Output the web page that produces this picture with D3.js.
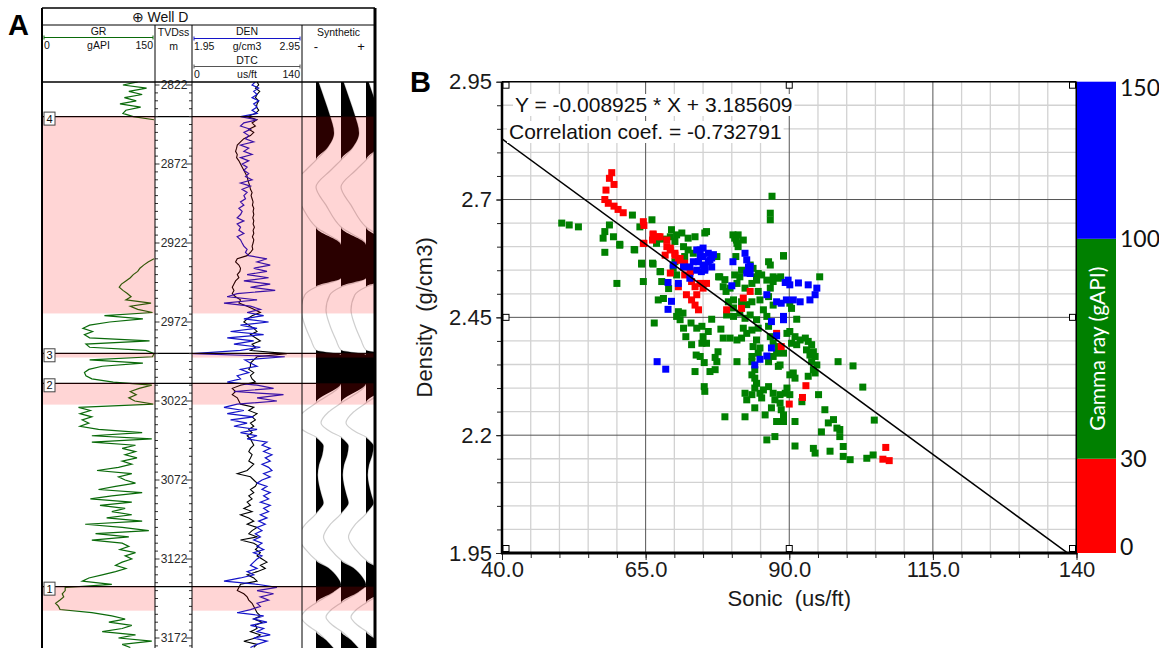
<!DOCTYPE html>
<html>
<head>
<meta charset="UTF-8">
<title>Well D log and density-sonic crossplot</title>
<style>
  body { margin: 0; background: #fff; }
  svg { display: block; font-family: "Liberation Sans", Arial, sans-serif; }
</style>
</head>
<body>
<svg id="chart" width="1159" height="648"></svg>
<script src="https://d3js.org/d3.v7.min.js"></script>
<script>
// ---------------- well log data (one sample every 2 m from 2820 m) ----------------
var depthTop = 2820, depthStep = 2;
var grValues = [128,108,140,116,134,110,126,104,132,112,
  108,122,150,
  null,null,null,null,null,null,null,null,null,null,null,null,null,null,null,null,null,null,null,null,null,
  null,null,null,null,null,null,null,null,null,null,null,null,null,null,null,null,null,null,null,null,null,null,
  150,142,136,131,128,122,118,112,106,103,
  108,114,119,112,146,118,128,148,83,135,
  90,63,54,67,56,63,144,58,63,139,
  150,148,63,135,80,62,56,58,66,95,
  147,130,118,126,116,124,149,48,64,50,
  66,53,62,50,75,134,66,147,66,125,
  107,125,111,127,107,120,102,73,120,102,
  111,125,98,75,134,93,64,120,77,111,
  93,120,86,134,57,107,143,71,116,66,
  107,116,104,125,111,120,107,98,112,98,
  80,62,53,93,30,30,26,28,23,17,
  21,23,66,93,111,89,120,107,80,125,
  102,147,107,118];
var denValues = [2.527,2.497,2.558,2.512,2.543,2.497,2.558,2.512,2.543,2.497,
  2.543,2.390,2.543,2.421,2.390,2.482,2.421,2.466,2.436,2.512,
  2.390,2.466,2.421,2.497,2.390,2.466,2.405,2.451,2.421,2.466,
  2.436,2.497,2.390,2.482,2.405,2.451,2.421,2.436,2.390,2.421,
  2.375,2.405,2.390,2.359,2.421,2.359,2.390,2.375,2.421,2.359,
  2.390,2.405,2.421,2.451,2.436,2.466,2.635,2.543,2.665,2.512,
  2.635,2.451,2.650,2.421,2.665,2.482,2.711,2.359,2.267,2.543,
  2.237,2.482,2.574,2.451,2.604,2.421,2.650,2.390,2.543,2.298,
  2.604,2.267,2.512,2.329,2.574,2.390,1.950,2.800,2.430,2.480,
  2.543,2.390,2.466,2.359,2.390,2.267,2.543,2.696,2.329,2.788,
  2.543,2.727,2.359,2.237,2.421,2.267,2.512,2.298,2.451,2.329,
  2.543,2.390,2.543,2.451,2.635,2.589,2.665,2.604,2.681,2.619,
  2.665,2.589,2.650,2.681,2.604,2.665,2.589,2.543,2.635,2.589,
  2.665,2.604,2.650,2.574,2.665,2.604,2.650,2.574,2.635,2.558,
  2.619,2.543,2.589,2.527,2.574,2.512,2.589,2.543,2.604,2.512,
  2.589,2.543,2.512,2.482,2.543,2.451,2.512,2.390,2.237,2.543,
  2.727,2.543,2.696,2.574,2.650,2.543,2.574,2.482,2.359,2.604,
  2.512,2.635,2.482,2.604,2.543,2.665,2.512,2.635,2.543,2.482];
var dtcValues = [83.0,85.2,80.9,86.5,83.0,80.9,85.2,83.0,82.2,85.2,
  80.9,70.2,83.0,76.6,80.9,72.3,78.8,74.5,65.9,61.6,
  57.4,56.5,55.2,57.4,56.5,59.5,61.6,63.8,65.9,68.1,
  70.2,71.1,72.3,73.6,74.5,76.6,75.3,76.6,77.9,77.0,
  78.8,77.9,78.8,77.5,78.8,77.9,79.6,77.9,78.8,77.0,
  78.8,77.9,76.6,77.5,74.5,70.2,57.4,55.2,59.5,61.6,
  60.8,57.4,59.5,55.2,53.1,50.9,53.1,50.9,55.2,61.6,
  59.5,70.2,78.8,87.3,76.6,70.2,65.9,72.3,78.8,83.0,
  74.5,80.9,87.3,76.6,80.9,74.5,121.6,83.0,78.8,74.5,
  74.5,72.3,78.8,74.5,76.6,80.9,61.6,50.9,55.2,50.9,
  57.4,59.5,61.6,78.8,72.3,83.0,76.6,80.9,74.5,78.8,
  72.3,76.6,70.2,74.5,76.6,78.8,74.5,72.3,76.6,74.5,
  72.3,78.8,74.5,70.2,57.4,74.5,78.8,83.0,80.9,74.5,
  78.8,72.3,76.6,70.2,74.5,65.9,76.6,61.6,72.3,78.8,
  70.2,83.0,76.6,72.3,83.0,61.6,78.8,85.2,80.9,87.3,
  83.0,89.5,95.9,87.3,93.7,83.0,70.2,78.8,83.0,61.6,
  59.5,57.4,65.9,70.2,72.3,76.6,78.8,80.9,83.0,87.3,
  78.8,89.5,80.9,83.0,74.5,87.3,80.9,65.9,83.0,78.8];

var zoneNames = ["4", "3", "2", "1"];
var zoneTops = [2842, 2991.8, 3010.8, 3139.5];
var zoneBases = [2966.6, 2994.5, 3024.3, 3154.7];
var depthLabels = [2822, 2872, 2922, 2972, 3022, 3072, 3122, 3172];

// synthetic seismogram trace (amplitude, 1 = trace spacing)
var synthDepths = [2820,2831.5,2841,2852.4,2861.9,2869.5,2875.8,2886.6,2898,2911.9,
  2923.3,2929.6,2939.1,2944.2,2949.8,2954.9,2964.4,2973.9,2983.4,2989.8,
  2992.9,3008.7,3010.6,3023.3,3029,3035.9,3041.6,3044.8,3046.7,3050.5,
  3056.2,3062.5,3068.8,3075.2,3081.5,3086.6,3091,3093.5,3100.5,3108.1,
  3116.3,3122.6,3127.7,3133.4,3138.5,3142.9,3149.8,3154.3,3158.7,3163.8,
  3167.6,3173.3,3178.4];
var synthAmps = [0.1,0.35,0.55,0.72,0.45,0,-0.4,-1.0,-0.6,0,
  1.0,1.5,1.5,1.0,0,-0.45,-0.6,-0.45,-0.2,0,
  1.6,1.3,1.0,0,-0.5,-0.8,-0.4,0,0.12,0.3,
  0.25,0.12,0.07,0.12,0.22,0.3,0.12,0,-0.45,-0.7,
  -0.4,0,0.5,0.85,1.05,0.7,0,-0.4,-0.6,-0.35,
  0,0.4,0.7];

// ---------------- crossplot data: [sonic us/ft, density g/cm3] ----------------
var redPoints = [[59.1,2.757],[58.7,2.745],[59.5,2.732],[58.1,2.720],[57.9,2.700],[58.5,2.692],[59.5,2.686],[60.2,2.679],[61.1,2.672],
  [64.6,2.653],[64.7,2.645],[64.7,2.607],[66.3,2.627],[67.2,2.621],[66.2,2.614],[68.7,2.600],[68.4,2.582],[69.3,2.593],[70.1,2.586],
  [70.7,2.571],[69.3,2.544],[71.6,2.557],[72.8,2.547],[66.3,2.625],[67.5,2.621],[68.7,2.614],[64.6,2.607],[69.3,2.597],[70.1,2.582],
  [71.0,2.575],[71.8,2.565],[70.7,2.515],[71.8,2.540],[73.0,2.526],[73.6,2.515],[74.5,2.522],[75.0,2.512],[75.6,2.522],[72.1,2.498],
  [73.0,2.487],[73.6,2.476],[74.2,2.466],[73.9,2.498],[79.1,2.466],[81.7,2.469],[83.2,2.505],[82.0,2.491],[87.8,2.416],[88.6,2.388],
  [92.9,2.305],[92.3,2.280],[90.0,2.266],[106.8,2.174],[106.3,2.149],[107.4,2.146]];
var bluePoints = [[73.9,2.593],[75.0,2.597],[75.9,2.586],[74.5,2.579],[76.2,2.572],[73.3,2.568],[75.0,2.561],[73.9,2.550],[75.3,2.550],
  [76.5,2.557],[72.7,2.557],[80.2,2.568],[82.3,2.586],[82.6,2.572],[82.9,2.557],[83.2,2.543],[89.8,2.529],[74.5,2.593],[75.0,2.579],
  [75.9,2.568],[74.2,2.568],[75.3,2.554],[74.7,2.547],[76.5,2.576],[76.8,2.583],[71.6,2.557],[69.8,2.561],[68.9,2.524],[70.7,2.522],
  [69.5,2.484],[68.9,2.467],[72.7,2.533],[83.2,2.558],[82.6,2.544],[89.3,2.524],[90.1,2.519],[91.6,2.523],[93.3,2.519],[94.8,2.512],
  [94.5,2.498],[93.6,2.487],[91.9,2.483],[90.7,2.487],[89.5,2.487],[88.6,2.480],[87.8,2.483],[86.1,2.498],[89.0,2.452],[89.0,2.445],
  [86.9,2.441],[87.8,2.411],[86.9,2.385],[86.1,2.368],[84.9,2.361],[84.0,2.349],[67.0,2.356],[68.5,2.340],[80.0,2.517]];
var greenPoints = [[50.4,2.650],[51.7,2.646],[53.3,2.642],[58.7,2.646],[57.9,2.632],[57.6,2.618],[59.4,2.621],[57.9,2.588],[60.5,2.605],
  [63.0,2.594],[64.3,2.565],[66.2,2.565],[67.6,2.547],[62.7,2.667],[64.0,2.642],[66.1,2.657],[69.5,2.636],[70.4,2.625],[69.3,2.621],
  [71.3,2.629],[68.1,2.616],[66.9,2.607],[70.1,2.611],[71.6,2.600],[72.4,2.593],[73.3,2.586],[73.6,2.621],[75.3,2.629],[71.8,2.579],
  [70.1,2.568],[77.4,2.579],[77.7,2.536],[80.2,2.625],[81.1,2.625],[80.8,2.614],[82.0,2.614],[81.1,2.600],[80.7,2.579],[87.0,2.707],
  [86.7,2.671],[86.7,2.657],[89.0,2.581],[86.4,2.568],[87.2,2.536],[88.5,2.536],[95.3,2.536],[81.7,2.550],[84.3,2.536],
  [60.0,2.522],[60.5,2.603],[63.1,2.593],[64.3,2.563],[64.6,2.526],[66.3,2.563],[67.5,2.547],[67.8,2.526],[67.2,2.487],[68.1,2.490],
  [69.0,2.511],[66.5,2.438],[69.8,2.554],[70.4,2.540],[70.7,2.462],[70.4,2.452],[71.5,2.459],[71.0,2.445],[71.6,2.427],[72.9,2.438],
  [73.9,2.427],[74.8,2.431],[72.0,2.409],[73.0,2.392],[75.0,2.409],[74.8,2.395],[75.6,2.395],[75.9,2.420],[73.8,2.370],[74.5,2.367],
  [75.2,2.354],[76.5,2.446],[78.1,2.425],[77.6,2.377],[77.1,2.365],[77.4,2.356],[76.2,2.335],[77.1,2.339],[73.6,2.335],[75.2,2.303],
  [75.3,2.293],[78.8,2.239],[82.3,2.239],[78.5,2.406],[79.7,2.406],[80.9,2.402],[81.7,2.406],[82.0,2.427],[82.6,2.416],[83.5,2.423],
  [80.9,2.356],[83.5,2.356],[80.3,2.470],[79.1,2.455],[80.3,2.452],[81.4,2.459],[82.3,2.448],[83.2,2.455],[84.3,2.445],[84.6,2.427],
  [79.4,2.483],[80.3,2.487],[81.7,2.483],[82.6,2.477],[83.5,2.483],[79.0,2.505],[78.8,2.530],[79.7,2.512],[80.9,2.522],[81.4,2.536],
  [82.3,2.512],[83.5,2.522],[84.3,2.529],[84.6,2.505],[84.9,2.487],[85.5,2.466],[86.1,2.452],[86.4,2.431],[86.7,2.409],[84.3,2.402],
  [83.7,2.388],[84.9,2.385],[83.5,2.367],[84.6,2.374],[87.2,2.395],[88.1,2.388],[87.8,2.374],[89.0,2.374],[89.6,2.416],[90.1,2.420],
  [91.0,2.409],[90.4,2.395],[91.3,2.392],[91.9,2.402],[92.8,2.406],[93.3,2.399],[93.9,2.392],[94.2,2.377],[93.0,2.381],[93.6,2.370],
  [94.5,2.367],[93.9,2.356],[94.8,2.349],[94.2,2.339],[94.5,2.332],[93.3,2.325],[90.7,2.332],[91.0,2.321],[90.1,2.328],[88.4,2.349],
  [87.2,2.367],[86.4,2.356],[88.1,2.346],[84.0,2.339],[83.5,2.328],[84.0,2.321],[84.3,2.310],[84.0,2.300],[82.3,2.289],[82.6,2.275],
  [83.5,2.286],[84.9,2.289],[85.5,2.296],[86.4,2.303],[87.2,2.289],[88.4,2.286],[89.3,2.289],[89.6,2.300],[90.1,2.286],[87.5,2.275],
  [88.4,2.268],[88.6,2.254],[89.0,2.243],[87.8,2.229],[89.0,2.229],[86.9,2.258],[85.8,2.243],[84.0,2.258],[85.2,2.279],[86.1,2.190],
  [87.5,2.197],[91.0,2.229],[91.0,2.177],[92.2,2.271],[95.1,2.286],[96.2,2.254],[96.8,2.226],[97.7,2.233],[95.6,2.207],[98.3,2.215],
  [98.8,2.212],[98.8,2.197],[99.4,2.176],[94.2,2.172],[94.5,2.162],[97.1,2.166],[99.4,2.155],[100.6,2.148],[103.5,2.151],[104.6,2.158],
  [98.5,2.356],[101.1,2.347],[102.8,2.302],[104.8,2.232],[91.3,2.446],[90.1,2.480],[90.4,2.469],[87.2,2.476],[86.4,2.494],[86.7,2.512],
  [87.2,2.526],[88.1,2.533],[86.1,2.529],[85.2,2.540],[86.7,2.561],[89.0,2.580],[77.9,2.536],[78.5,2.515],[80.9,2.607],[80.5,2.618],
  [84.6,2.543],[83.7,2.554],[83.2,2.561],[80.5,2.540],[75.6,2.632],[72.4,2.618]];

var fitSlope = -0.008925, fitIntercept = 3.185609, fitCorrelation = -0.732791;
var sonicTicks = [40, 65, 90, 115, 140];
var densityTicks = [1.95, 2.2, 2.45, 2.7, 2.95];
var grBreaks = [0, 30, 100, 150];
var grColors = ["#ff0000", "#008000", "#0000ff"];

var svg = d3.select("#chart");
svg.append("rect").attr("width", 1159).attr("height", 648).attr("fill", "#fff");
var defs = svg.append("defs");
function addClip(id, x, y, w, h) {
  defs.append("clipPath").attr("id", id).append("rect")
    .attr("x", x).attr("y", y).attr("width", w).attr("height", h);
}

// =================== panel A : well log ===================
var pLeft = 42, pRight = 375, pTop = 8, titleBottom = 25, headBottom = 82, pBottom = 648;
var grRight = 155, tvdRight = 192, denRight = 302;

var depthY = d3.scaleLinear().domain([2822, 3172]).range([85, 638]);
var grX = d3.scaleLinear().domain([0, 150]).range([43, 154]);
var denX = d3.scaleLinear().domain([1.95, 2.95]).range([193, 301]);
var dtcX = d3.scaleLinear().domain([0, 140]).range([193, 301]);

addClip("clipGR", pLeft, headBottom, grRight - pLeft, pBottom - headBottom);
addClip("clipDEN", tvdRight, headBottom, denRight - tvdRight, pBottom - headBottom);
addClip("clipSyn", denRight, headBottom, pRight - denRight, pBottom - headBottom);

function logSeries(values) {
  return values.map(function (v, i) { return { d: depthTop + i * depthStep, v: v }; });
}

var logG = svg.append("g");

// GR
logG.append("g").attr("clip-path", "url(#clipGR)").append("path")
  .datum(logSeries(grValues))
  .attr("d", d3.line().defined(function (d) { return d.v != null; })
    .x(function (d) { return grX(d.v); }).y(function (d) { return depthY(d.d); }))
  .attr("fill", "none").attr("stroke", "#0a6a0a").attr("stroke-width", 1.2);

// DTC and DEN
var denG = logG.append("g").attr("clip-path", "url(#clipDEN)");
denG.append("path").datum(logSeries(dtcValues))
  .attr("d", d3.line().x(function (d) { return dtcX(d.v); }).y(function (d) { return depthY(d.d); }))
  .attr("fill", "none").attr("stroke", "#000").attr("stroke-width", 1.1);
denG.append("path").datum(logSeries(denValues))
  .attr("d", d3.line().x(function (d) { return denX(d.v); }).y(function (d) { return depthY(d.d); }))
  .attr("fill", "none").attr("stroke", "#1414c8").attr("stroke-width", 1.2);

// synthetic traces
var synthBase = [316, 341, 366], synthSpan = 25;
var synData = synthDepths.map(function (d, i) { return { d: d, a: synthAmps[i] }; });
var synG = logG.append("g").attr("clip-path", "url(#clipSyn)");
synthBase.forEach(function (b) {
  synG.append("path").datum(synData)
    .attr("d", d3.line().curve(d3.curveMonotoneY)
      .x(function (d) { return b + Math.max(-1, Math.min(1, d.a)) * synthSpan; })
      .y(function (d) { return depthY(d.d); }))
    .attr("fill", "none").attr("stroke", "#cfcfcf").attr("stroke-width", 1.2);
  synG.append("path").datum(synData)
    .attr("d", d3.area().curve(d3.curveMonotoneY)
      .x0(b)
      .x1(function (d) { return b + Math.max(0, Math.min(1, d.a)) * synthSpan; })
      .y(function (d) { return depthY(d.d); }))
    .attr("fill", "#000");
});

// zone tops (lines) then pink zone overlays
zoneTops.forEach(function (t) {
  logG.append("line").attr("x1", pLeft).attr("x2", pRight)
    .attr("y1", depthY(t)).attr("y2", depthY(t))
    .attr("stroke", "#000").attr("stroke-width", 1.3);
});
var zoneCols = [[pLeft, grRight], [tvdRight, denRight], [denRight, pRight]];
zoneTops.forEach(function (t, i) {
  zoneCols.forEach(function (c) {
    logG.append("rect").attr("x", c[0]).attr("width", c[1] - c[0])
      .attr("y", depthY(t)).attr("height", depthY(zoneBases[i]) - depthY(t))
      .attr("fill", "#ff0000").attr("fill-opacity", 0.165);
  });
});

// TVDss ticks and labels
var tvdG = logG.append("g");
d3.range(2822, 3178, 5).forEach(function (d) {
  var y = depthY(d);
  if (depthLabels.indexOf(d) >= 0) {
    tvdG.append("line").attr("x1", grRight).attr("x2", grRight + 4.5).attr("y1", y).attr("y2", y).attr("stroke", "#333");
    tvdG.append("line").attr("x1", tvdRight - 6).attr("x2", tvdRight).attr("y1", y).attr("y2", y).attr("stroke", "#333");
  } else {
    tvdG.append("line").attr("x1", grRight).attr("x2", grRight + 3).attr("y1", y).attr("y2", y).attr("stroke", "#333");
    tvdG.append("line").attr("x1", tvdRight - 3).attr("x2", tvdRight).attr("y1", y).attr("y2", y).attr("stroke", "#333");
  }
});
tvdG.selectAll("text.depth").data(depthLabels).enter().append("text")
  .attr("x", (grRight + tvdRight) / 2 + 0.5).attr("y", function (d) { return depthY(d); })
  .attr("dy", "0.36em").attr("text-anchor", "middle")
  .attr("font-size", 12).attr("fill", "#2a2a2a")
  .text(function (d) { return d; });

// frame
var frame = logG.append("g").attr("stroke", "#000");
frame.append("line").attr("x1", pLeft).attr("x2", pRight).attr("y1", pTop).attr("y2", pTop).attr("stroke-width", 1.5);
frame.append("line").attr("x1", pLeft).attr("x2", pRight).attr("y1", titleBottom).attr("y2", titleBottom).attr("stroke-width", 1);
frame.append("line").attr("x1", pLeft).attr("x2", pRight).attr("y1", headBottom).attr("y2", headBottom).attr("stroke-width", 1.3);
frame.append("line").attr("x1", pLeft).attr("x2", pLeft).attr("y1", pTop).attr("y2", pBottom).attr("stroke-width", 2);
frame.append("line").attr("x1", pRight).attr("x2", pRight).attr("y1", pTop).attr("y2", pBottom).attr("stroke-width", 3);
[grRight, tvdRight, denRight].forEach(function (x) {
  frame.append("line").attr("x1", x).attr("x2", x).attr("y1", titleBottom).attr("y2", pBottom).attr("stroke-width", 1);
});

// header
var head = logG.append("g").attr("font-size", 10.5).attr("fill", "#111");
head.append("text").attr("x", 160).attr("y", 22).attr("text-anchor", "middle").attr("font-size", 14).text("\u2295 Well D");
function scaleHeader(x0, x1, yTitle, yLine, title, lo, unit, hi, color) {
  var cx = (x0 + x1) / 2;
  head.append("text").attr("x", cx).attr("y", yTitle).attr("text-anchor", "middle").text(title);
  head.append("line").attr("x1", x0 + 2).attr("x2", x1 - 2).attr("y1", yLine).attr("y2", yLine)
    .attr("stroke", color).attr("stroke-width", 1.2);
  [x0 + 2, x1 - 2].forEach(function (x) {
    head.append("line").attr("x1", x).attr("x2", x).attr("y1", yLine - 2).attr("y2", yLine + 2).attr("stroke", color);
  });
  head.append("text").attr("x", x0 + 2).attr("y", yLine + 11).text(lo);
  head.append("text").attr("x", cx).attr("y", yLine + 11).attr("text-anchor", "middle").text(unit);
  head.append("text").attr("x", x1 - 2).attr("y", yLine + 11).attr("text-anchor", "end").text(hi);
}
scaleHeader(pLeft, grRight, 34.5, 37.5, "GR", "0", "gAPI", "150", "#0a6a0a");
scaleHeader(tvdRight, denRight, 34.5, 38.5, "DEN", "1.95", "g/cm3", "2.95", "#1414c8");
scaleHeader(tvdRight, denRight, 64, 66.5, "DTC", "0", "us/ft", "140", "#555");
head.append("text").attr("x", (grRight + tvdRight) / 2).attr("y", 36).attr("text-anchor", "middle").text("TVDss");
head.append("text").attr("x", (grRight + tvdRight) / 2).attr("y", 50).attr("text-anchor", "middle").text("m");
head.append("text").attr("x", (denRight + pRight) / 2).attr("y", 36).attr("text-anchor", "middle").text("Synthetic");
head.append("text").attr("x", 316).attr("y", 51).attr("text-anchor", "middle").attr("font-size", 13).text("-");
head.append("text").attr("x", 361).attr("y", 51).attr("text-anchor", "middle").attr("font-size", 13).text("+");

// zone markers
zoneTops.forEach(function (t, i) {
  var y = depthY(t);
  logG.append("rect").attr("x", 44).attr("y", y - 4.5).attr("width", 11).attr("height", 13)
    .attr("fill", "#fff").attr("stroke", "#444").attr("stroke-width", 1);
  logG.append("text").attr("x", 49.5).attr("y", y + 2).attr("dy", "0.36em")
    .attr("text-anchor", "middle").attr("font-size", 11).attr("fill", "#111").text(zoneNames[i]);
});

svg.append("text").attr("x", 8).attr("y", 35).attr("font-size", 29).attr("font-weight", "bold").text("A");

// =================== panel B : density vs sonic ===================
var sx = d3.scaleLinear().domain([40, 140]).range([502, 1076.5]);
var sy = d3.scaleLinear().domain([1.95, 2.95]).range([553, 81.7]);
addClip("clipPlot", sx(40), sy(2.95), sx(140) - sx(40), sy(1.95) - sy(2.95));

var minorX = d3.range(40, 141, 5);
var minorY = d3.range(0, 21).map(function (k) { return +(1.95 + k * 0.05).toFixed(2); });
var majorX = sonicTicks.slice(1, -1), majorY = densityTicks.slice(1, -1);

var grid = svg.append("g");
grid.selectAll("line.mx").data(minorX.filter(function (v) { return sonicTicks.indexOf(v) < 0; })).enter().append("line")
  .attr("x1", sx).attr("x2", sx).attr("y1", sy(2.95)).attr("y2", sy(1.95))
  .attr("stroke", "#d2d2d2").attr("stroke-width", 1.3);
grid.selectAll("line.my").data(minorY.filter(function (v) { return densityTicks.indexOf(v) < 0; })).enter().append("line")
  .attr("x1", sx(40)).attr("x2", sx(140)).attr("y1", sy).attr("y2", sy)
  .attr("stroke", "#d2d2d2").attr("stroke-width", 1.3);
grid.selectAll("line.Mx").data(majorX).enter().append("line")
  .attr("x1", sx).attr("x2", sx).attr("y1", sy(2.95)).attr("y2", sy(1.95))
  .attr("stroke", "#555").attr("stroke-width", 1);
grid.selectAll("line.My").data(majorY).enter().append("line")
  .attr("x1", sx(40)).attr("x2", sx(140)).attr("y1", sy).attr("y2", sy)
  .attr("stroke", "#555").attr("stroke-width", 1);

// axes (minor ticks, then labelled major ticks)
var xMinor = svg.append("g").attr("transform", "translate(0," + sy(1.95) + ")")
  .call(d3.axisBottom(sx).tickValues(minorX).tickSize(5).tickSizeOuter(0).tickFormat(""));
var yMinor = svg.append("g").attr("transform", "translate(" + sx(40) + ",0)")
  .call(d3.axisLeft(sy).tickValues(minorY).tickSize(5).tickSizeOuter(0).tickFormat(""));
var xAxis = svg.append("g").attr("transform", "translate(0," + sy(1.95) + ")")
  .call(d3.axisBottom(sx).tickValues(sonicTicks).tickSize(7).tickSizeOuter(0)
    .tickFormat(function (d) { return d === 140 ? "140" : d.toFixed(1); }));
var yAxis = svg.append("g").attr("transform", "translate(" + sx(40) + ",0)")
  .call(d3.axisLeft(sy).tickValues(densityTicks).tickSize(6).tickSizeOuter(0)
    .tickFormat(function (d) { return String(d); }));
[xMinor, yMinor, xAxis, yAxis].forEach(function (a) {
  a.select(".domain").remove();
  a.selectAll("line").attr("stroke", "#222");
  a.selectAll("text").attr("font-size", 22).attr("fill", "#1a1a1a")
    .attr("font-family", "'Liberation Sans', Arial, sans-serif");
});
xAxis.selectAll("text").attr("dy", "0.62em");
yAxis.selectAll("text").attr("dx", "-0.05em");

// points: green, red, blue
var pts = svg.append("g").attr("clip-path", "url(#clipPlot)");
var sq = 7;
[[greenPoints, grColors[1]], [redPoints, grColors[0]], [bluePoints, grColors[2]]].forEach(function (s) {
  pts.selectAll(null).data(s[0]).enter().append("rect")
    .attr("x", function (d) { return sx(d[0]) - sq / 2; })
    .attr("y", function (d) { return sy(d[1]) - sq / 2; })
    .attr("width", sq).attr("height", sq).attr("fill", s[1]);
});

// regression line
pts.append("line")
  .attr("x1", sx(40)).attr("y1", sy(fitSlope * 40 + fitIntercept))
  .attr("x2", sx(140)).attr("y2", sy(fitSlope * 140 + fitIntercept))
  .attr("stroke", "#000").attr("stroke-width", 1.5);

// frame
var pf = svg.append("g").attr("stroke", "#000");
pf.append("line").attr("x1", sx(40)).attr("x2", sx(140)).attr("y1", sy(2.95)).attr("y2", sy(2.95)).attr("stroke-width", 1.5);
pf.append("line").attr("x1", sx(140)).attr("x2", sx(140)).attr("y1", sy(2.95)).attr("y2", sy(1.95)).attr("stroke-width", 2);
pf.append("line").attr("x1", sx(40)).attr("x2", sx(40)).attr("y1", sy(2.95)).attr("y2", sy(1.95)).attr("stroke-width", 2.5);
pf.append("line").attr("x1", sx(40) - 1).attr("x2", sx(140) + 1).attr("y1", sy(1.95)).attr("y2", sy(1.95)).attr("stroke-width", 3);

// small handle squares
var hs = 6;
[[40, 2.95], [90, 2.95], [140, 2.95], [40, 2.45], [140, 2.45], [40, 1.95], [90, 1.95], [140, 1.95]].forEach(function (h) {
  var x = sx(h[0]), y = sy(h[1]);
  var hx = h[0] === 40 ? x + 1 : (h[0] === 140 ? x - hs - 1 : x - hs / 2);
  var hy = h[1] === 2.95 ? y + 0.5 : (h[1] === 1.95 ? y - hs - 1.5 : y - hs / 2);
  svg.append("rect").attr("x", hx).attr("y", hy).attr("width", hs).attr("height", hs)
    .attr("fill", "#fff").attr("stroke", "#000").attr("stroke-width", 1);
});

// equation text with white boxes
var eqG = svg.append("g").attr("font-size", 21).attr("fill", "#111");
var eqLines = [
  { x: 515, y: 112, t: "Y = " + fitSlope.toFixed(6) + " * X + " + fitIntercept.toFixed(6) },
  { x: 509, y: 139, t: "Correlation coef. = " + fitCorrelation.toFixed(6) }
];
eqLines.forEach(function (l) {
  var bg = eqG.append("rect").attr("fill", "#fff");
  var tx = eqG.append("text").attr("x", l.x).attr("y", l.y).text(l.t);
  var b = tx.node().getBBox();
  bg.attr("x", b.x - 2).attr("y", b.y + 1).attr("width", b.width + 4).attr("height", b.height - 1);
});

// axis titles
svg.append("text").attr("transform", "translate(424," + sy(2.45) + ") rotate(-90)")
  .attr("text-anchor", "middle").attr("dy", "0.35em").attr("font-size", 22).attr("fill", "#1a1a1a")
  .style("white-space", "pre").text("Density  (g/cm3)");
svg.append("text").attr("x", sx(90)).attr("y", 606)
  .attr("text-anchor", "middle").attr("font-size", 22).attr("fill", "#1a1a1a")
  .style("white-space", "pre").text("Sonic  (us/ft)");

// gamma ray colour bar
var cbY = d3.scaleLinear().domain([0, 150]).range([sy(1.95), sy(2.95)]);
var cbX = 1077, cbW = 39;
var cb = svg.append("g");
grColors.forEach(function (c, i) {
  cb.append("rect").attr("x", cbX).attr("width", cbW)
    .attr("y", cbY(grBreaks[i + 1])).attr("height", cbY(grBreaks[i]) - cbY(grBreaks[i + 1]))
    .attr("fill", c);
});
cb.selectAll("text.lab").data(grBreaks).enter().append("text")
  .attr("x", cbX + cbW + 4)
  .attr("y", function (d) { return Math.max(88, Math.min(547, cbY(d))); })
  .attr("dy", "0.36em").attr("font-family", "Lato, 'Open Sans', sans-serif")
  .attr("font-size", 23).attr("fill", "#111").text(function (d) { return d; });
cb.append("text").attr("transform", "translate(" + (cbX + cbW / 2 + 1) + "," + cbY(65) + ") rotate(-90)")
  .attr("text-anchor", "middle").attr("dy", "0.35em")
  .attr("font-family", "Lato, 'Open Sans', sans-serif").attr("font-size", 21).attr("fill", "#fff")
  .text("Gamma ray (gAPI)");

svg.append("text").attr("x", 410).attr("y", 92).attr("font-size", 29).attr("font-weight", "bold").text("B");
</script>
</body>
</html>
